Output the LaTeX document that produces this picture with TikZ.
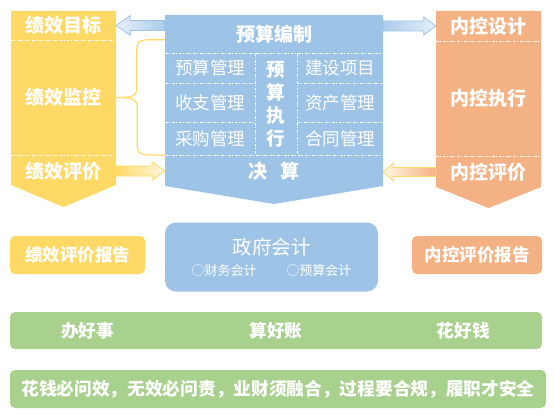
\documentclass[tikz,border=0pt]{standalone}
\usepackage{fontspec}
\setmainfont{Noto Sans CJK SC}
\usetikzlibrary{calc}
\definecolor{gold}{HTML}{FFD966}
\definecolor{sky}{HTML}{9DC3E6}
\definecolor{peach}{HTML}{F4B183}
\definecolor{leaf}{HTML}{A9D18E}

\begin{document}
\begin{tikzpicture}
  [x=1pt, y=-1pt,
   lbl/.style={text=white, inner sep=0pt, font=\bfseries\fontsize{19}{22}\selectfont},
   cell/.style={text=white, inner sep=0pt, minimum width=#1, font=\fontsize{17.5}{20}\selectfont},
   divider/.style={draw=white, line width=0.6pt, dash pattern=on 3pt off 1.5pt on 1pt off 1.5pt},
   box/.style={text=white, inner sep=0pt, rounded corners=5pt, font=\bfseries\fontsize{17.5}{20}\selectfont},
   bar/.style={fill=leaf, text=white, inner sep=0pt, rounded corners=5pt, font=\bfseries\fontsize{17.7}{20}\selectfont},
   bartxt/.style={text=white, inner sep=0pt, font=\bfseries\fontsize{17.7}{20}\selectfont}]
  \useasboundingbox (0,0) rectangle (554,420);

  % three columns
  \fill[gold] (11,11) -- (116,11) -- (116,185) -- (63.5,207) -- (11,185) -- cycle;
  \fill[sky] (165,15) -- (383,15) -- (383,186) -- (274,204) -- (165,186) -- cycle;
  \fill[peach] (436,11) -- (541,11) -- (541,187) -- (488.5,208) -- (436,187) -- cycle;

  \node[lbl, minimum width=105pt, minimum height=29pt] (goal) at (63.5,25.5) {绩效目标};
  \node[lbl, minimum width=105pt, minimum height=115pt] (monitor) at (63.5,97.5) {绩效监控};
  \node[lbl, minimum width=105pt, minimum height=32pt] (review) at (63.5,171) {绩效评价};

  \node[lbl, minimum width=105pt, minimum height=30pt] (design) at (488.5,26) {内控设计};
  \node[lbl, minimum width=105pt, minimum height=115pt] (run) at (488.5,98.5) {内控执行};
  \node[lbl, minimum width=105pt, minimum height=32pt] (audit) at (488.5,172) {内控评价};

  \node[lbl, minimum width=218pt, minimum height=38pt] (plan) at (274,34) {预算编制};
  \node[cell=90pt, minimum height=30pt] (c1) at (210,68) {预算管理};
  \node[cell=90pt, minimum height=39pt] (c2) at (210,102.5) {收支管理};
  \node[cell=90pt, minimum height=33pt] (c3) at (210,138.5) {采购管理};
  \node[lbl, minimum width=42pt, minimum height=102pt, align=center,
        font=\bfseries\fontsize{18.5}{23}\selectfont] (exec) at (276,104) {预\\算\\执\\行};
  \node[cell=86pt, minimum height=30pt] (c4) at (340,68) {建设项目};
  \node[cell=86pt, minimum height=39pt] (c5) at (340,102.5) {资产管理};
  \node[cell=86pt, minimum height=33pt] (c6) at (340,138.5) {合同管理};
  \node[lbl, minimum width=218pt, minimum height=31pt] (final) at (274,171) {决\hspace{14pt}算};

  \draw[divider] (goal.south west) -- (goal.south east);
  \draw[divider] (monitor.south west) -- (monitor.south east);
  \draw[divider] (design.south west) -- (design.south east);
  \draw[divider] (run.south west) -- (run.south east);
  \draw[divider] (plan.south west) -- (plan.south east);
  \draw[divider] (c1.south west) -- (c1.south east);
  \draw[divider] (c2.south west) -- (c2.south east);
  \draw[divider] (c4.south west) -- (c4.south east);
  \draw[divider] (c5.south west) -- (c5.south east);
  \draw[divider] (exec.north west) -- (exec.south west);
  \draw[divider] (exec.north east) -- (exec.south east);
  \draw[divider] (final.north west) -- (final.north east);

  % brace
  \draw[gold, line width=1.2pt] (monitor.north -| plan.west) -- ++(-16,0)
    .. controls +(-12,0) and +(0,-8) .. ++(-12,12) -- ++(0,36)
    .. controls +(0,8) and +(18,0) .. (monitor.east)
    .. controls +(18,0) and +(0,-8) .. ++(21,10) -- ++(0,35.5)
    .. controls +(0,8) and +(-12,0) .. ++(12,12) -- (monitor.south -| plan.west);

  % block arrows
  \shadedraw[left color=sky!25, right color=sky!85, draw=sky, line width=0.8pt]
    (goal.east) -- ++(14,-10) -- ++(0,5) -- ($(goal.east -| plan.west)+(0,-5)$)
    -- ($(goal.east -| plan.west)+(0,5)$) -- ($(goal.east)+(14,5)$) -- ++(0,5) -- cycle;
  \shadedraw[left color=sky!85, right color=sky!25, draw=sky, line width=0.8pt]
    ($(design.west -| plan.east)+(0,-5)$) -- ($(design.west)+(-12,-5)$) -- ++(0,-4)
    -- (design.west) -- ++(-12,9) -- ++(0,-4) -- ($(design.west -| plan.east)+(0,5)$) -- cycle;
  \shadedraw[left color=gold, right color=gold!20, draw=gold, line width=0.8pt]
    ($(review.east)+(0,-5)$) -- ($(review.east -| final.west)+(-12,-5)$) -- ++(0,-4)
    -- (review.east -| final.west) -- ++(-12,9) -- ++(0,-4) -- ($(review.east)+(0,5)$) -- cycle;
  \shadedraw[left color=gold!20, right color=peach, draw=gold, line width=0.8pt]
    (audit.west -| final.east) -- ++(10,-9) -- ++(0,4.5) -- ($(audit.west)+(0,-4.5)$)
    -- ($(audit.west)+(0,4.5)$) -- ($(audit.west -| final.east)+(10,4.5)$) -- ++(0,4.5) -- cycle;

  % reports and accounting
  \node[box, fill=gold, minimum width=135pt, minimum height=38pt] (perfrep) at (77.5,255) {绩效评价报告};
  \node[box, fill=sky, minimum width=213pt, minimum height=69pt, rounded corners=11pt, align=center,
        font=\fontsize{19.5}{21}\selectfont] (gov) at (271.5,257)
        {政府会计\\{\fontsize{13}{15}\selectfont ○财务会计\hspace{30pt}○预算会计}};
  \node[box, fill=peach, minimum width=130pt, minimum height=38pt] (ctrlrep) at (477,255) {内控评价报告};

  % goals
  \node[bar, minimum width=532pt, minimum height=37pt] (deeds) at (276,330.5) {算好账};
  \node[bartxt] (work) at ($(deeds.west)+(78,0)$) {办好事};
  \node[bartxt] (money) at ($(deeds.east)+(-79,0)$) {花好钱};
  \node[bar, minimum width=536pt, minimum height=38pt] (motto) at (278,389)
    {花钱必问效，无效必问责，业财须融合，过程要合规，履职才安全};
\end{tikzpicture}
\end{document}
